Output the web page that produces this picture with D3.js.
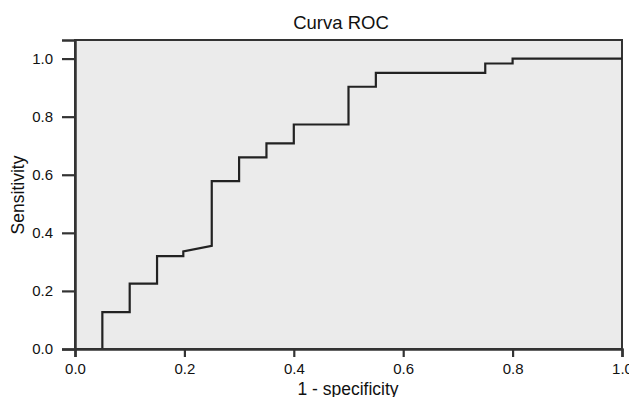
<!DOCTYPE html>
<html>
<head>
<meta charset="utf-8">
<script src="https://cdn.jsdelivr.net/npm/d3@7"></script>
<style>
  body { margin: 0; background: #fff; }
  svg { display: block; font-family: "Liberation Sans", Arial, sans-serif; }
  .tick text { font-size: 15px; fill: #111; }
</style>
</head>
<body>
<svg id="chart" width="629" height="397"></svg>
<script>
// ROC curve vertices (1 - specificity, sensitivity)
var fpr = [0, 0.05, 0.05, 0.10, 0.10, 0.15, 0.15, 0.198, 0.198, 0.25, 0.25, 0.30, 0.30, 0.35, 0.35, 0.40, 0.40, 0.50, 0.50, 0.55, 0.55, 0.75, 0.75, 0.80, 0.80, 1.0];
var tpr = [0, 0, 0.127, 0.127, 0.225, 0.225, 0.32, 0.32, 0.336, 0.355, 0.578, 0.578, 0.66, 0.66, 0.708, 0.708, 0.773, 0.773, 0.903, 0.903, 0.951, 0.951, 0.983, 0.983, 1.0, 1.0];
var xTicks = [0, 0.2, 0.4, 0.6, 0.8, 1.0];
var yTicks = [0, 0.2, 0.4, 0.6, 0.8, 1.0];

var svg = d3.select("#chart"),
    margin = {top: 40, right: 7, bottom: 48, left: 75},
    width = +svg.attr("width") - margin.left - margin.right,
    height = +svg.attr("height") - margin.top - margin.bottom;

var x = d3.scaleLinear().domain([0, 1]).range([0, width]);
var y = d3.scaleLinear().domain([0, 1.064]).range([height, 0]);

var g = svg.append("g")
    .attr("transform", "translate(" + margin.left + "," + margin.top + ")");

// plot background + frame
g.append("rect")
    .attr("width", width)
    .attr("height", height)
    .attr("fill", "#ebebeb")
    .attr("stroke", "#333")
    .attr("stroke-width", 2);

var points = fpr.map(function(d, i) { return [d, tpr[i]]; });

var line = d3.line()
    .x(function(d) { return x(d[0]); })
    .y(function(d) { return y(d[1]); });

g.append("path")
    .datum(points)
    .attr("fill", "none")
    .attr("stroke", "#222")
    .attr("stroke-width", 2.2)
    .attr("d", line);

// axes
var xAxis = g.append("g")
    .attr("transform", "translate(0," + height + ")")
    .call(d3.axisBottom(x).tickValues(xTicks).tickFormat(d3.format(".1f")).tickSize(8).tickPadding(6));

var yAxis = g.append("g")
    .call(d3.axisLeft(y).tickValues(yTicks).tickFormat(d3.format(".1f")).tickSize(13).tickPadding(9));

[xAxis, yAxis].forEach(function(a) {
  a.select(".domain").attr("stroke", "#333").attr("stroke-width", 2.5);
  a.selectAll(".tick line").attr("stroke", "#333").attr("stroke-width", 2.2);
});

// labels
svg.append("text")
    .attr("x", 341)
    .attr("y", 29)
    .attr("text-anchor", "middle")
    .style("font-size", "18.5px")
    .attr("fill", "#111")
    .text("Curva ROC");

svg.append("text")
    .attr("x", 348)
    .attr("y", 395)
    .attr("text-anchor", "middle")
    .style("font-size", "17.5px")
    .attr("fill", "#111")
    .text("1 - specificity");

svg.append("text")
    .attr("transform", "translate(24,195) rotate(-90)")
    .attr("text-anchor", "middle")
    .style("font-size", "17.5px")
    .attr("fill", "#111")
    .text("Sensitivity");
</script>
</body>
</html>
